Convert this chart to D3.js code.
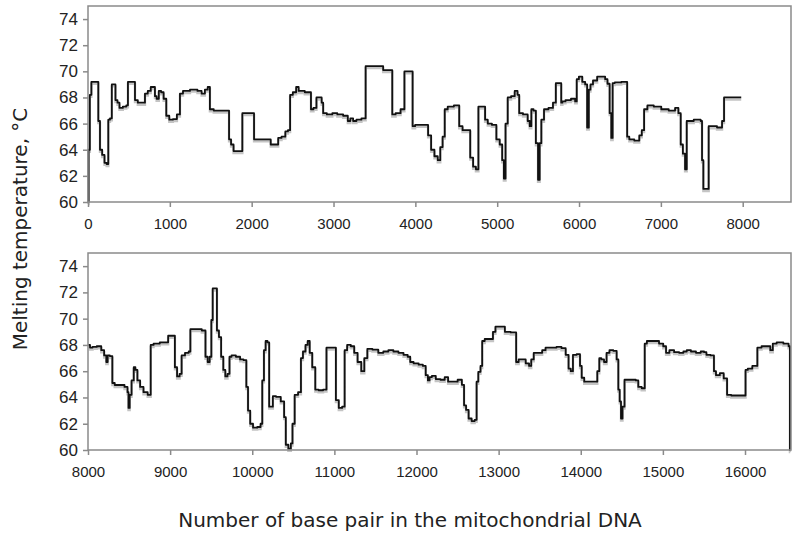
<!DOCTYPE html>
<html>
<head>
<meta charset="utf-8">
<script src="https://cdn.jsdelivr.net/npm/d3@7"></script>
<style>
  body { margin: 0; background: #fff; }
  svg { display: block; }
</style>
</head>
<body>
<div id="chart"></div>
<script>
// base pair positions and melting temperatures
var topBp = [0, 15, 30, 53, 118, 134, 159, 187, 216, 240, 256, 281, 301, 321, 350, 370, 399, 452, 484, 492,
  566, 582, 635, 688, 704, 757, 777, 810, 826, 851, 879, 908, 940, 973, 1013, 1062, 1111, 1136, 1185, 1307,
  1368, 1408, 1449, 1477, 1502, 1571, 1713, 1734, 1762, 1795, 1876, 1896, 2019, 2039, 2202, 2263, 2316, 2332,
  2397, 2426, 2460, 2479, 2527, 2560, 2588, 2710, 2739, 2771, 2812, 2845, 2865, 2882, 2955, 3016, 3077, 3158,
  3191, 3219, 3260, 3300, 3382, 3403, 3586, 3627, 3708, 3728, 3789, 3850, 3883, 3952, 3981, 4013, 4135, 4176,
  4209, 4257, 4290, 4319, 4347, 4371, 4420, 4522, 4550, 4603, 4656, 4685, 4726, 4754, 4787, 4836, 4868, 4901,
  4970, 5010, 5051, 5071, 5092, 5112, 5145, 5194, 5234, 5263, 5275, 5356, 5389, 5405, 5430, 5458, 5487, 5511,
  5527, 5552, 5592, 5661, 5702, 5731, 5775, 5790, 5804, 5865, 5938, 5966, 5978, 6019, 6060, 6089, 6109, 6130,
  6150, 6191, 6252, 6305, 6333, 6362, 6386, 6402, 6419, 6455, 6578, 6598, 6630, 6720, 6753, 6781, 6809, 6862,
  6964, 7045, 7147, 7200, 7228, 7257, 7281, 7310, 7322, 7371, 7432, 7480, 7493, 7513, 7525, 7574, 7594, 7635,
  7737, 7758, 7786, 7982];
var topTm = [60, 64, 68.2, 69.2, 69.2, 66.2, 64.0, 63.6, 63.0, 62.9, 66.3, 66.4, 69.0, 69.0, 67.8, 67.6, 67.2, 67.3, 67.4, 69.2,
  69.2, 67.8, 67.6, 67.6, 68.3, 68.5, 68.8, 68.8, 68.1, 67.9, 68.5, 68.4, 67.9, 66.6, 66.3, 66.35, 66.7, 68.3, 68.5, 68.6,
  68.5, 68.3, 68.6, 68.8, 67.1, 67.0, 67.0, 64.8, 64.4, 63.9, 63.9, 66.8, 66.8, 64.8, 64.8, 64.4, 64.4, 64.9,
  65.0, 65.4, 65.5, 68.2, 68.4, 68.8, 68.5, 68.4, 67.1, 67.2, 68.0, 68.0, 67.6, 66.8, 66.7, 66.8, 66.7, 66.6,
  66.2, 66.4, 66.2, 66.3, 66.4, 70.4, 70.4, 70.1, 70.1, 66.7, 66.8, 67.1, 70.0, 70.0, 65.8, 65.9, 65.9, 65.1,
  64.0, 63.5, 63.2, 64.2, 65.0, 67.1, 67.3, 67.4, 65.8, 65.5, 65.5, 63.4, 62.7, 62.5, 67.3, 67.3, 66.3, 66.0,
  65.9, 64.8, 64.4, 63.2, 61.8, 66.0, 68.0, 68.1, 68.5, 68.2, 66.8, 66.7, 66.2, 65.8, 67.1, 67.0, 64.5, 61.7,
  64.5, 66.3, 67.1, 67.2, 67.6, 69.1, 69.1, 67.6, 67.7, 67.8, 67.9, 67.7, 69.4, 69.6, 69.2, 69.0, 65.7, 68.6,
  69.0, 69.3, 69.6, 69.6, 69.4, 69.05, 66.8, 64.9, 69.1, 69.15, 69.2, 65.0, 64.8, 64.7, 65.1, 65.5, 67.1, 67.4,
  67.3, 67.1, 67.0, 67.2, 66.8, 64.4, 63.7, 62.5, 66.2, 66.2, 66.3, 66.3, 66.2, 63.2, 61.0, 61.0, 65.8, 65.8,
  65.7, 66.2, 68.0, 68.0];

var bottomBp = [8004, 8045, 8066, 8147, 8176, 8217, 8229, 8250, 8282, 8311, 8340, 8414, 8475, 8487, 8499, 8516, 8545, 8569,
  8585, 8618, 8651, 8700, 8753, 8774, 8823, 8925, 8966, 8986, 9048, 9068, 9101, 9130, 9150, 9212, 9240, 9253,
  9355, 9416, 9445, 9469, 9494, 9510, 9527, 9560, 9580, 9609, 9633, 9662, 9682, 9715, 9731, 9764, 9838, 9866,
  9920, 9936, 9961, 9989, 10030, 10091, 10112, 10132, 10153, 10173, 10198, 10214, 10239, 10263, 10316, 10378,
  10398, 10419, 10460, 10480, 10500, 10533, 10583, 10603, 10632, 10665, 10685, 10714, 10747, 10788, 10828,
  10898, 10910, 10951, 11004, 11033, 11074, 11115, 11135, 11176, 11225, 11258, 11307, 11348, 11381, 11422,
  11504, 11565, 11627, 11688, 11749, 11811, 11872, 11913, 11934, 11995, 12057, 12098, 12126, 12151, 12167,
  12208, 12261, 12323, 12364, 12405, 12466, 12536, 12569, 12589, 12618, 12651, 12692, 12724, 12740, 12765,
  12794, 12806, 12855, 12917, 12945, 12978, 13060, 13092, 13203, 13224, 13264, 13305, 13354, 13387, 13407,
  13448, 13510, 13551, 13592, 13674, 13735, 13796, 13837, 13866, 13891, 13919, 13981, 14001, 14022, 14062,
  14185, 14218, 14234, 14267, 14300, 14329, 14370, 14423, 14451, 14464, 14484, 14496, 14521, 14545, 14574,
  14656, 14684, 14717, 14767, 14791, 14820, 14922, 14984, 15024, 15053, 15106, 15167, 15229, 15270, 15311,
  15372, 15434, 15487, 15516, 15544, 15618, 15626, 15667, 15720, 15761, 15802, 15863, 15994, 16019, 16048,
  16130, 16171, 16232, 16294, 16322, 16355, 16416, 16518, 16543, 16551];
var bottomTm = [68.0, 67.8, 67.85, 67.9, 67.6, 67.2, 66.7, 67.2, 67.15, 65.1, 64.95, 64.95, 64.8, 64.4, 63.2, 64.2, 65.3, 66.3,
  66.1, 65.3, 64.8, 64.4, 64.2, 68.0, 68.1, 68.2, 68.2, 68.7, 68.7, 66.3, 65.6, 65.8, 67.2, 67.4, 67.5, 69.2,
  69.2, 69.1, 67.1, 66.7, 67.1, 69.9, 72.3, 72.3, 69.1, 68.6, 67.1, 66.1, 65.6, 65.8, 67.1, 67.2, 67.1, 66.9,
  66.85, 64.8, 63.0, 62.0, 61.7, 61.75, 62.0, 65.3, 67.6, 68.3, 68.2, 63.3, 63.3, 64.1, 64.05, 63.7,
  62.5, 60.4, 60.1, 60.5, 62.0, 64.2, 64.4, 67.0, 67.5, 68.0, 68.3, 67.4, 66.3, 64.6, 64.55,
  64.6, 67.8, 67.8, 67.8, 63.8, 63.2, 63.3, 67.6, 68.0, 67.9, 67.4, 66.7, 66.0, 67.0, 67.7,
  67.65, 67.4, 67.5, 67.6, 67.5, 67.4, 67.25, 67.1, 66.7, 66.6, 66.5, 66.4, 65.7, 65.3, 65.55,
  65.65, 65.4, 65.35, 65.55, 65.2, 65.2, 65.35, 64.96, 63.4, 63.05, 62.4, 62.2, 62.3, 65.2, 65.95,
  66.4, 68.3, 68.45, 68.45, 69.0, 69.4, 69.4, 69.0, 68.95, 66.7, 66.9, 66.9, 66.6, 66.4, 66.9,
  67.4, 67.4, 67.6, 67.8, 67.8, 67.85, 67.75, 67.25, 66.2, 66.0, 67.25, 67.3, 66.4, 65.5, 65.2,
  65.2, 66.0, 67.0, 66.9, 66.7, 67.4, 67.6, 67.55, 66.9, 64.6, 63.7, 62.4, 63.3, 65.35, 65.35,
  65.35, 65.3, 64.8, 64.7, 68.1, 68.3, 68.3, 68.1, 67.9, 67.4, 67.6, 67.45, 67.4, 67.5, 67.6,
  67.5, 67.4, 67.5, 67.45, 67.25, 67.2, 66.0, 65.7, 65.85, 65.45, 64.2, 64.15, 64.15, 66.1, 66.2,
  66.4, 67.8, 67.9, 67.9, 67.6, 68.1, 68.2, 68.1, 67.9, 60];

var yTicks = [60, 62, 64, 66, 68, 70, 72, 74];
var topXTicks = [0, 1000, 2000, 3000, 4000, 5000, 6000, 7000, 8000];
var bottomXTicks = [8000, 9000, 10000, 11000, 12000, 13000, 14000, 15000, 16000];

var svg = d3.select("#chart").append("svg")
  .attr("width", 800)
  .attr("height", 536)
  .style("font-family", "'DejaVu Sans', Verdana, sans-serif");

svg.append("rect").attr("width", 800).attr("height", 536).attr("fill", "#fff");

//draw one panel
function drawPanel(bp, tm, xDomain, xTicks, top, bottom) {
  var x = d3.scaleLinear().domain(xDomain).range([88, 791]);
  var y = d3.scaleLinear().domain([60, 75]).range([bottom, top]);
  var pts = bp.map(function (d, i) { return [d, tm[i]]; });
  var line = d3.line()
    .x(function (d) { return x(d[0]); })
    .y(function (d) { return y(d[1]); })
    .curve(d3.curveStep);

  var g = svg.append("g");

  // grey shadow line
  g.append("path")
    .attr("d", line(pts))
    .attr("transform", "translate(0,2)")
    .attr("fill", "none")
    .attr("stroke", "#c4c4c4")
    .attr("stroke-width", 2.4);

  g.append("path")
    .attr("d", line(pts))
    .attr("fill", "none")
    .attr("stroke", "#111")
    .attr("stroke-width", 1.8)
    .attr("stroke-linejoin", "round");

  g.append("rect")
    .attr("x", 88).attr("y", top)
    .attr("width", 791 - 88).attr("height", bottom - top)
    .attr("fill", "none")
    .attr("stroke", "#8a8a8a")
    .attr("stroke-width", 1.5);

  var xAxis = g.append("g")
    .attr("transform", "translate(0," + bottom + ")")
    .call(d3.axisBottom(x).tickValues(xTicks).tickFormat(d3.format("d"))
      .tickSize(5).tickSizeOuter(0).tickPadding(11));
  var yAxis = g.append("g")
    .attr("transform", "translate(88,0)")
    .call(d3.axisLeft(y).tickValues(yTicks).tickSize(5).tickSizeOuter(0).tickPadding(5));

  [xAxis, yAxis].forEach(function (a) {
    a.select(".domain").remove();
    a.selectAll(".tick line").attr("stroke", "#8a8a8a").attr("stroke-width", 1.5);
    a.selectAll("text").attr("fill", "#222");
  });
  xAxis.selectAll("text").style("font-size", "15px");
  yAxis.selectAll("text").style("font-size", "17px");
}

drawPanel(topBp, topTm, [0, 8590], topXTicks, 6, 202);
drawPanel(bottomBp, bottomTm, [8000, 16560], bottomXTicks, 253, 450);

svg.append("text")
  .attr("transform", "translate(27,229) rotate(-90)")
  .attr("text-anchor", "middle")
  .attr("fill", "#222")
  .style("font-size", "20px")
  .text("Melting temperature, °C");

svg.append("text")
  .attr("x", 410)
  .attr("y", 527)
  .attr("text-anchor", "middle")
  .attr("fill", "#222")
  .style("font-size", "20px")
  .text("Number of base pair in the mitochondrial DNA");
</script>
</body>
</html>
